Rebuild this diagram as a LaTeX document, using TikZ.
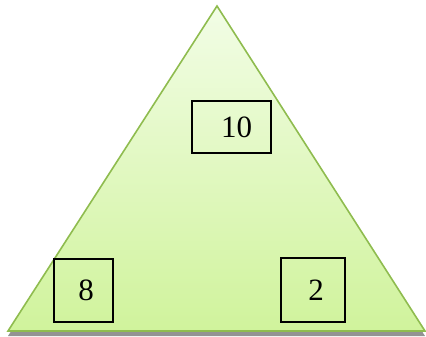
\documentclass[tikz,border=0pt]{standalone}
\usepackage{fontspec}
\setmainfont{Liberation Serif}
\definecolor{triedge}{HTML}{8FBC4F}
\definecolor{tritop}{HTML}{F2FDE6}
\definecolor{tribot}{HTML}{D0F39C}
\tikzset{numbox/.style={draw=black,line width=1.1pt,inner sep=0pt,font=\fontsize{31}{31}\selectfont}}
\begin{document}
\begin{tikzpicture}[x=1pt,y=-1pt]
\useasboundingbox (0,0) rectangle (426,337);
% triangle with its shadow
\coordinate (apex) at (217,6);
\coordinate (bl) at (8,331);
\coordinate (br) at (425,331);
\fill[gray!85] ([yshift=-5]bl) -- ([yshift=-5]apex) -- ([yshift=-5]br) -- cycle;
\shade[top color=tritop,bottom color=tribot] (bl) -- (apex) -- (br) -- cycle;
\draw[triedge,line width=1.6pt,line join=miter] (bl) -- (apex) -- (br) -- cycle;
% number boxes
\node[numbox,minimum width=79,minimum height=52] (ten) at (231.5,127) {\hspace{10pt}10};
\node[numbox,minimum width=59,minimum height=63] (eight) at (83.5,290.5) {\hspace{5pt}8};
\node[numbox,minimum width=64,minimum height=64] (two) at (313,290) {\hspace{6pt}2};
\end{tikzpicture}
\end{document}
